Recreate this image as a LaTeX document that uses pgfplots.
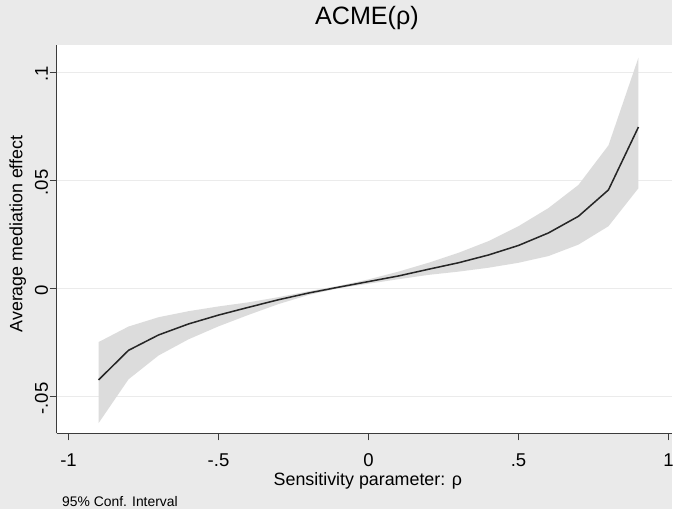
\documentclass[border=0pt]{standalone}
\usepackage{fontspec}
\setmainfont{Liberation Sans}
\usepackage{pgfplots}
\pgfplotsset{compat=1.18}
\definecolor{stbg}{HTML}{EAEAEA}
\definecolor{stband}{HTML}{DCDCDC}
\definecolor{stgrid}{HTML}{EBEBEB}
\definecolor{staxis}{HTML}{3C3C3C}

% rho and ACME estimate
\pgfplotstableread{
rho   est
-0.9 -0.0423
-0.8 -0.0286
-0.7 -0.0215
-0.6 -0.0164
-0.5 -0.0123
-0.4 -0.0087
-0.3 -0.0052
-0.2 -0.0021
-0.1  0.0006
 0.0  0.0032
 0.1  0.0058
 0.2  0.0089
 0.3  0.0119
 0.4  0.0155
 0.5  0.0199
 0.6  0.0257
 0.7  0.0334
 0.8  0.0456
 0.9  0.0747
}\acme

% 95% band: upper bound left to right, then lower bound right to left
\pgfplotstableread{
rho   ci
-0.9 -0.0248
-0.8 -0.0176
-0.7 -0.0133
-0.6 -0.0105
-0.5 -0.0083
-0.4 -0.0064
-0.3 -0.0040
-0.2 -0.0013
-0.1  0.0012
 0.0  0.0042
 0.1  0.0078
 0.2  0.0119
 0.3  0.0165
 0.4  0.0219
 0.5  0.0288
 0.6  0.0372
 0.7  0.0479
 0.8  0.0662
 0.9  0.1068
 0.9  0.0464
 0.8  0.0288
 0.7  0.0203
 0.6  0.0150
 0.5  0.0119
 0.4  0.0096
 0.3  0.0078
 0.2  0.0063
 0.1  0.0043
 0.0  0.0022
-0.1  0.0001
-0.2 -0.0030
-0.3 -0.0072
-0.4 -0.0122
-0.5 -0.0175
-0.6 -0.0235
-0.7 -0.0310
-0.8 -0.0420
-0.9 -0.0623
}\band

\begin{document}
\begin{tikzpicture}
% grey graph region, 678 x 513 px; axis box starts at (0,0)
\begin{scope}[x=0.75pt, y=0.75pt]
\fill[stbg] (-57,-76) rectangle (621,437);
\useasboundingbox (-57,-76) rectangle (621,437);
\end{scope}

\begin{axis}[
  scale only axis,
  width=465.75pt, height=294pt,
  xmin=-1.04, xmax=1.013, ymin=-0.067, ymax=0.1128,
  axis background/.style={fill=white},
  axis x line*=bottom, axis y line*=left,
  axis line style={-, draw=staxis, line width=0.8pt},
  tick style={draw=staxis, line width=0.8pt},
  tick align=outside, major tick length=5.25pt,
  xtick={-1,-0.5,0,0.5,1},
  xticklabels={-1,-.5,0,.5,1},
  ytick={-0.05,0,0.05,0.1},
  yticklabels={-.05,0,.05,.1},
  ymajorgrids, major grid style={stgrid, line width=0.9pt},
  tick label style={font=\fontsize{14}{16}\selectfont, text=black},
  xticklabel style={anchor=north, text height=10pt, text depth=0pt, yshift=-6pt},
  yticklabel style={rotate=90, anchor=south, text height=10pt, text depth=0pt,
    inner sep=1pt, xshift=-1.5pt},
  clip=false,
]
\addplot[fill=stband, draw=none] table[x=rho, y=ci] {\band} -- cycle;
\addplot[black!85, line width=1.15pt] table[x=rho, y=est] {\acme};
\end{axis}

\begin{scope}[x=0.75pt, y=0.75pt]
\node[font=\fontsize{19}{21}\selectfont] at (313,419) {ACME(ρ)};
\node[font=\fontsize{13.5}{15}\selectfont] at (314,-48) {Sensitivity parameter: ρ};
\node[font=\fontsize{13.5}{15}\selectfont, rotate=90] at (-39,201) {Average mediation effect};
\node[font=\fontsize{10.5}{12}\selectfont, anchor=west] at (1,-69) {95\% Conf. Interval};
\end{scope}
\end{tikzpicture}
\end{document}
